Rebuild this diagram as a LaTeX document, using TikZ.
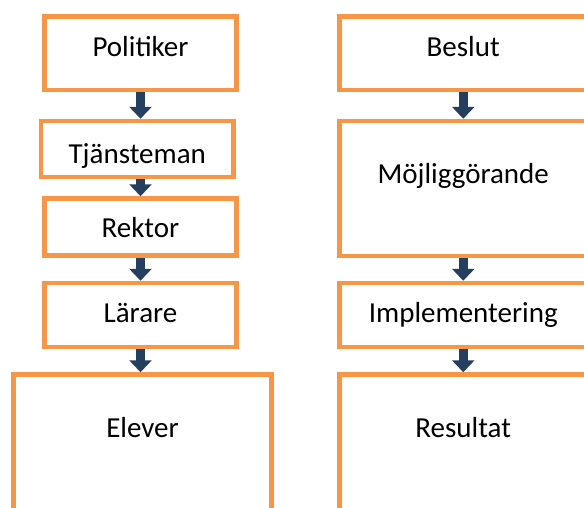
\documentclass[tikz,border=0pt]{standalone}
\usepackage{fontspec}
\setmainfont{Carlito}
\usetikzlibrary{arrows.meta}

\definecolor{boxorange}{HTML}{F79646}
\definecolor{arrowblue}{HTML}{243F60}

\tikzset{
    box/.style={draw=boxorange, line width=4.5pt, fill=white, rectangle, inner sep=0pt},
    txt/.style={anchor=base, inner sep=0pt, font=\fontsize{29}{34}\selectfont},
    flow/.style={draw=arrowblue, line width=9pt, -{Triangle[width=22pt, length=12pt]}}
}

\begin{document}
\begin{tikzpicture}[x=1pt, y=-1pt]
    \useasboundingbox (0, 0) rectangle (584, 507);
    \clip (0, 0) rectangle (584, 507);

    % left column
    \node[box, minimum width=192pt, minimum height=73.5pt] (politiker) at (140.5, 53.25) {};
    \node[box, minimum width=192.5pt, minimum height=56pt] (tjansteman) at (137.25, 149) {};
    \node[box, minimum width=192pt, minimum height=57pt] (rektor) at (140.5, 227) {};
    \node[box, minimum width=192pt, minimum height=64pt] (larare) at (140.5, 315) {};
    \node[box, minimum width=258pt, minimum height=145pt] (elever) at (142.5, 447) {};

    % right column
    \node[box, minimum width=247.5pt, minimum height=73.5pt] (beslut) at (463.25, 53.25) {};
    \node[box, minimum width=247.5pt, minimum height=135pt] (mojlig) at (463.25, 188.5) {};
    \node[box, minimum width=247.5pt, minimum height=64pt] (impl) at (463.25, 315) {};
    \node[box, minimum width=247.5pt, minimum height=145pt] (resultat) at (463.25, 447) {};

    \node[txt] (politiker-t) at ([yshift=-42pt]politiker.north) {Politiker};
    \node[txt] (tjansteman-t) at ([yshift=-44.5pt]tjansteman.north) {Tjänsteman};
    \node[txt] (rektor-t) at ([yshift=-41pt]rektor.north) {Rektor};
    \node[txt] (larare-t) at ([yshift=-42pt]larare.north) {Lärare};
    \node[txt] (elever-t) at ([yshift=-65pt]elever.north) {Elever};

    \node[txt] (beslut-t) at ([yshift=-42pt]beslut.north) {Beslut};
    \node[txt] (mojlig-t) at ([yshift=-64.5pt]mojlig.north) {Möjliggörande};
    \node[txt] (impl-t) at ([yshift=-42pt]impl.north) {Implementering};
    \node[txt] (resultat-t) at ([yshift=-65pt]resultat.north) {Resultat};

    \draw[flow] (politiker.south) -- (politiker.south |- tjansteman.north);
    \draw[flow] (politiker.south |- tjansteman.south) -- (politiker.south |- rektor.north);
    \draw[flow] (rektor.south) -- (larare.north);
    \draw[flow] (larare.south) -- (larare.south |- elever.north);

    \draw[flow] (beslut.south) -- (mojlig.north);
    \draw[flow] (mojlig.south) -- (impl.north);
    \draw[flow] (impl.south) -- (resultat.north);
\end{tikzpicture}
\end{document}
